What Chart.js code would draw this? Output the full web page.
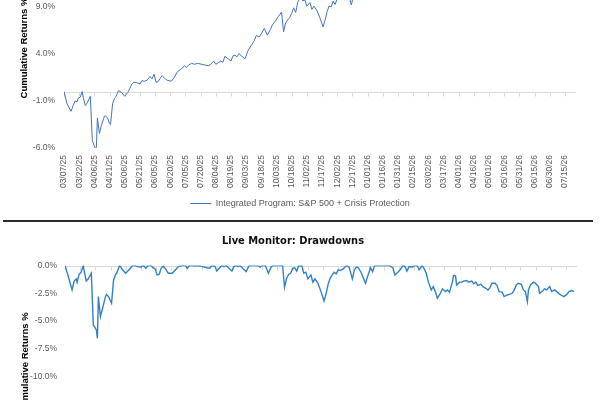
<!DOCTYPE html>
<html><head><meta charset="utf-8">
<script src="https://cdn.jsdelivr.net/npm/chart.js@4.4.1/dist/chart.umd.min.js"></script>
<style>
html,body{margin:0;padding:0;width:600px;height:400px;overflow:hidden;background:#fff}
body{position:relative}
#c1{position:absolute;left:0;top:-66px}
#c2{position:absolute;left:-7px;top:226px}
#sep{position:absolute;left:3px;width:590px;top:220px;height:1.5px;background:#2b2b2b}
</style></head>
<body>
<canvas id="c1" width="600" height="284"></canvas>
<div id="sep"></div>
<canvas id="c2" width="600" height="279"></canvas>
<script>
// ---------- data ----------
const dates = [
'03/07/25','03/10/25','03/14/25','03/16/25','03/18/25','03/19/25','03/20/25','03/21/25','03/23/25','03/25/25',
'03/26/25','03/28/25','03/30/25','04/02/25','04/04/25','04/07/25','04/08/25','04/09/25','04/11/25','04/13/25',
'04/16/25','04/17/25','04/19/25','04/21/25','04/22/25','04/24/25','04/26/25','04/27/25','04/30/25','05/03/25',
'05/06/25','05/09/25','05/11/25','05/13/25','05/15/25','05/18/25','05/21/25','05/23/25','05/26/25','05/28/25',
'05/31/25','06/02/25','06/04/25','06/06/25','06/08/25','06/10/25','06/12/25','06/15/25','06/17/25','06/21/25',
'06/24/25','06/27/25','07/01/25','07/04/25','07/06/25','07/08/25','07/11/25','07/14/25','07/17/25','07/21/25',
'07/25/25','07/28/25','07/30/25','08/02/25','08/04/25','08/07/25','08/09/25','08/11/25','08/13/25','08/16/25',
'08/19/25','08/21/25','08/23/25','08/25/25','08/27/25','08/30/25','09/02/25','09/05/25','09/08/25','09/11/25',
'09/13/25','09/16/25','09/18/25','09/21/25','09/24/25','09/27/25','09/29/25','10/02/25','10/05/25','10/08/25',
'10/10/25','10/12/25','10/14/25','10/16/25','10/18/25','10/20/25','10/22/25','10/24/25','10/26/25','10/27/25',
'10/29/25','10/31/25','11/02/25','11/05/25','11/07/25','11/09/25','11/12/25','11/15/25','11/17/25','11/18/25',
'11/20/25','11/22/25','11/24/25','11/26/25','11/28/25','11/30/25','12/02/25','12/04/25','12/07/25','12/09/25',
'12/11/25','12/13/25','12/16/25','12/18/25','12/20/25','12/22/25','12/25/25','12/29/25','12/31/25','01/03/26',
'01/05/26','01/07/26','01/13/26','01/17/26','01/21/26','01/25/26','01/27/26','01/30/26','02/01/26','02/04/26',
'02/06/26','02/08/26','02/10/26','02/13/26','02/16/26','02/18/26','02/20/26','02/23/26','02/25/26','02/27/26',
'03/01/26','03/04/26','03/06/26','03/08/26','03/10/26','03/13/26','03/15/26','03/18/26','03/20/26','03/22/26',
'03/25/26','03/26/26','03/28/26','03/29/26','04/01/26','04/03/26','04/05/26','04/08/26','04/10/26','04/13/26',
'04/15/26','04/17/26','04/19/26','04/22/26','04/24/26','04/27/26','04/29/26','05/01/26','05/03/26','05/06/26',
'05/08/26','05/10/26','05/13/26','05/15/26','05/18/26','05/20/26','05/23/26','05/25/26','05/27/26','05/29/26',
'06/01/26','06/03/26','06/05/26','06/07/26','06/08/26','06/10/26','06/13/26','06/15/26','06/18/26','06/19/26',
'06/22/26','06/24/26','06/26/26','06/29/26','07/01/26','07/04/26','07/06/26','07/09/26','07/11/26','07/13/26',
'07/16/26','07/18/26','07/21/26','07/23/26'
];
const cumulativeReturns = [
0.00,-1.30,-2.10,-1.50,-1.00,-1.05,-1.10,-0.70,-0.60,0.00,
-0.60,-1.50,-1.20,-0.50,-5.20,-6.10,-5.90,-2.80,-4.45,-3.60,
-2.60,-2.60,-2.80,-3.40,-3.50,-1.30,-0.70,-0.60,0.10,-0.10,
-0.50,-0.10,0.30,0.80,1.00,0.95,0.80,1.15,1.10,1.20,
1.60,1.35,1.85,0.98,1.05,1.40,1.70,1.35,1.20,1.10,
1.50,2.10,2.40,2.75,2.55,2.80,3.00,2.90,3.00,2.90,
2.80,2.75,2.90,3.25,2.90,3.10,3.25,3.10,3.75,3.50,
3.25,3.80,3.85,3.70,4.05,3.70,3.50,4.40,4.90,5.40,
5.95,5.80,6.15,6.70,6.00,6.60,7.10,7.50,8.00,8.45,
6.35,7.30,7.60,7.85,8.30,8.90,8.40,9.50,9.90,10.40,
9.63,9.74,9.08,9.46,8.74,9.08,8.60,7.81,7.20,6.87,
7.60,8.50,9.10,9.00,9.60,9.25,9.90,9.80,10.07,10.40,
10.60,10.38,9.20,10.20,11.40,11.20,10.70,9.75,10.40,11.30,
10.90,11.80,12.20,12.50,12.80,12.60,11.85,12.10,12.35,13.00,
12.90,12.45,12.90,12.85,13.40,13.60,13.15,13.80,13.46,13.00,
12.15,11.30,11.64,11.13,10.44,10.95,11.41,11.13,11.30,11.07,
12.15,12.78,12.72,11.81,12.09,12.09,12.21,12.26,12.09,12.21,
11.92,12.09,11.75,11.87,11.64,11.47,11.30,11.52,11.98,11.98,
11.75,11.13,11.07,10.61,10.78,10.84,10.95,11.30,11.81,11.98,
11.87,11.30,11.13,10.10,11.30,11.81,12.09,11.98,11.64,10.95,
11.18,11.41,11.30,11.64,11.13,11.30,11.13,10.84,10.73,10.61,
10.84,11.13,11.24,11.13
];
const drawdowns = [
0.00,-0.90,-2.20,-1.40,-1.20,-1.50,-1.10,-0.80,-0.60,0.00,
-0.50,-1.40,-1.20,-0.70,-5.35,-5.80,-6.55,-2.80,-4.60,-3.90,
-2.80,-2.60,-2.80,-3.20,-3.40,-1.30,-0.80,-0.70,0.00,-0.40,
-0.70,-0.40,-0.20,0.00,0.00,-0.10,-0.15,0.00,-0.25,0.00,
0.00,-0.20,-0.30,-0.85,-0.80,-0.25,-0.05,-0.40,-0.70,-0.70,
-0.40,-0.10,0.00,0.00,-0.25,0.00,0.00,-0.05,0.00,-0.10,
-0.20,-0.25,-0.05,-0.05,-0.50,-0.20,0.00,-0.10,0.00,-0.25,
-0.50,-0.10,0.00,-0.10,0.00,-0.30,-0.55,0.00,0.00,0.00,
0.00,-0.15,0.00,0.00,-0.70,-0.10,0.00,0.00,0.00,0.00,
-1.95,-1.15,-0.80,-0.70,-0.25,-0.20,-0.50,0.00,-0.05,0.00,
-0.70,-0.60,-1.20,-0.85,-1.50,-1.20,-1.60,-2.35,-2.90,-3.20,
-2.55,-1.70,-1.15,-0.85,-0.60,-0.75,-0.40,-0.45,-0.30,-0.10,
0.00,-0.20,-1.20,-0.40,-0.15,-0.20,-0.70,-1.60,-1.00,-0.20,
-0.55,0.00,0.00,0.00,0.00,-0.20,-0.85,-0.60,-0.40,0.00,
-0.10,-0.50,-0.10,-0.15,0.00,0.00,-0.40,0.00,-0.30,-0.70,
-1.45,-2.20,-1.90,-2.35,-2.95,-2.50,-2.10,-2.35,-2.20,-2.40,
-1.45,-0.90,-0.95,-1.75,-1.50,-1.50,-1.40,-1.35,-1.50,-1.40,
-1.65,-1.50,-1.80,-1.70,-1.90,-2.05,-2.20,-2.00,-1.60,-1.60,
-1.80,-2.35,-2.40,-2.80,-2.65,-2.60,-2.50,-2.20,-1.75,-1.60,
-1.70,-2.20,-2.35,-3.25,-2.20,-1.75,-1.50,-1.60,-1.90,-2.50,
-2.30,-2.10,-2.20,-1.90,-2.35,-2.20,-2.35,-2.60,-2.70,-2.80,
-2.60,-2.35,-2.25,-2.35
];
const xTickLabels = [
'03/07/25','03/22/25','04/06/25','04/21/25','05/06/25','05/21/25','06/05/25','06/20/25','07/05/25','07/20/25',
'08/04/25','08/19/25','09/03/25','09/18/25','10/03/25','10/18/25','11/02/25','11/17/25','12/02/25','12/17/25',
'01/01/26','01/16/26','01/31/26','02/15/26','03/02/26','03/17/26','04/01/26','04/16/26','05/01/26','05/16/26',
'05/31/26','06/15/26','06/30/26','07/15/26'
];
const axisStart = '03/07/25';
const axisEnd = '07/26/26';
const cumTicks = [-6, -1, 4, 9, 14];
const cumRange = [-6, 15.25];
const ddTicks = [0, -2.5, -5, -7.5, -10, -12.5, -15, -17.5];
const ddRange = [-17.5, 0];
const seriesName = 'Integrated Program: S&P 500 + Crisis Protection';
const ddSeriesName = 'Drawdown';
const yTitle = 'Cumulative Returns %';
const ddTitle = 'Live Monitor: Drawdowns';

// ---------- helpers ----------
const BASE = (() => { const [m,d,y] = axisStart.split('/').map(Number); return Date.UTC(2000+y, m-1, d); })();
const dayOf = s => { const [m,d,y] = s.split('/').map(Number); return Math.round((Date.UTC(2000+y, m-1, d) - BASE) / 864e5); };
const tickDays = xTickLabels.map(dayOf);
const FONT = "'Liberation Sans', Arial, sans-serif";
const GREY = '#595959';

const zeroAxis = {
  id: 'zeroAxis',
  beforeDatasetsDraw(chart) {
    const {ctx, chartArea: a, scales: {x, y}} = chart;
    const y0 = Math.round(y.getPixelForValue(0)) + 0.5;
    ctx.save();
    ctx.strokeStyle = '#D9D9D9';
    ctx.lineWidth = 1;
    ctx.beginPath();
    ctx.moveTo(a.left, y0); ctx.lineTo(a.right, y0);
    x.ticks.forEach(t => {
      const px = Math.round(x.getPixelForValue(t.value)) + 0.5;
      ctx.moveTo(px, y0); ctx.lineTo(px, y0 + 4);
    });
    ctx.stroke();
    ctx.restore();
  }
};

function xScale() {
  return {
    type: 'linear', min: 0, max: dayOf(axisEnd),
    grid: {display: false, drawTicks: false}, border: {display: false},
    ticks: {autoSkip: false, minRotation: 90, maxRotation: 90, padding: 7, color: GREY,
            font: {family: FONT, size: 8.5}, callback: (v, i) => xTickLabels[i]},
    afterBuildTicks: s => { s.ticks = tickDays.map(v => ({value: v})); },
    afterFit: s => { s.height = 45; }
  };
}
function yScale(range, ticks, width, pad, titlePad) {
  return {
    position: 'left', min: range[0], max: range[1],
    grid: {display: false, drawTicks: false}, border: {display: false},
    ticks: {padding: pad, color: GREY, font: {family: FONT, size: 8.5}, callback: v => v.toFixed(1) + '%'},
    afterBuildTicks: s => { s.ticks = ticks.map(v => ({value: v})); },
    afterFit: s => { s.width = width; },
    title: {display: true, text: yTitle, color: '#000', font: {family: FONT, size: 9.5, weight: 'bold'},
            padding: {top: titlePad, bottom: 0}}
  };
}
function rightPad(width) {
  return {position: 'right', grid: {display: false, drawTicks: false}, border: {display: false},
          ticks: {display: false}, afterFit: s => { s.width = width; }};
}

// ---------- top chart: cumulative returns ----------
new Chart(document.getElementById('c1'), {
  type: 'line',
  data: {datasets: [{
    label: seriesName,
    data: dates.map((d, i) => ({x: dayOf(d), y: cumulativeReturns[i]})),
    borderColor: '#4472C4', backgroundColor: '#4472C4', borderWidth: 1,
    pointRadius: 0, tension: 0
  }]},
  options: {
    responsive: false, animation: false,
    layout: {padding: {top: 10, left: 0, right: 0, bottom: 0}},
    plugins: {
      tooltip: {enabled: false},
      legend: {display: true, position: 'bottom',
        labels: {usePointStyle: true, pointStyle: 'line', pointStyleWidth: 21, padding: 6,
                 color: GREY, font: {family: FONT, size: 9}}}
    },
    scales: {x: xScale(), y: yScale(cumRange, cumTicks, 64, 9, 19), yR: rightPad(24)}
  },
  plugins: [zeroAxis]
});

// ---------- bottom chart: drawdowns ----------
new Chart(document.getElementById('c2'), {
  type: 'line',
  data: {datasets: [{
    label: ddSeriesName,
    data: dates.map((d, i) => ({x: dayOf(d), y: drawdowns[i]})),
    borderColor: '#3181C6', backgroundColor: '#3181C6', borderWidth: 1.4,
    pointRadius: 0, tension: 0
  }]},
  options: {
    responsive: false, animation: false,
    layout: {padding: 0},
    plugins: {
      tooltip: {enabled: false},
      legend: {display: false},
      title: {display: true, text: ddTitle, color: '#111',
              font: {family: "'DejaVu Sans Condensed', 'Liberation Sans', sans-serif", size: 11, weight: 'bold'},
              padding: {top: 8.5, bottom: 17.8}}
    },
    scales: {x: xScale(), y: yScale(ddRange, ddTicks, 72, 8, 26.3), yR: rightPad(16)}
  },
  plugins: [zeroAxis]
});
</script>
</body></html>
